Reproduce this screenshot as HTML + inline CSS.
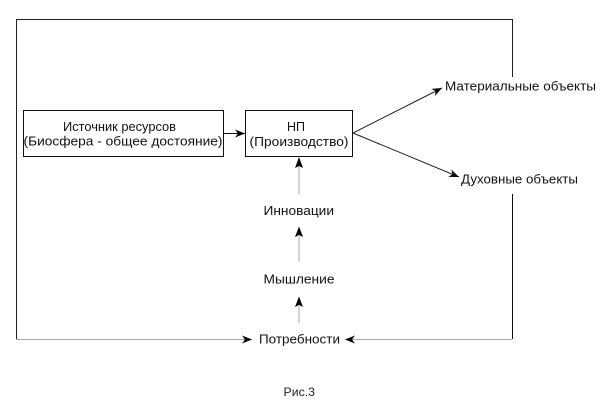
<!DOCTYPE html>
<html><head><meta charset="utf-8"><style>
html,body{margin:0;padding:0;background:#fff;}
svg{display:block;}
text{font-family:"Liberation Sans",Arial,sans-serif;fill:#111;}
</style></head><body>
<svg width="608" height="411" viewBox="0 0 608 411" xmlns="http://www.w3.org/2000/svg">
<defs>
<marker id="ah" viewBox="0 0 10 8" refX="10" refY="4" markerWidth="10" markerHeight="8" markerUnits="userSpaceOnUse" orient="auto">
<path d="M0,0 L10,4 L0,8 L3,4 Z" fill="#000"/>
</marker>
</defs>
<!-- outer frame -->
<path d="M16.5,339 L16.5,19.5 L512.5,19.5 L512.5,77" fill="none" stroke="#222" stroke-width="1"/>
<path d="M512.5,194 L512.5,339" fill="none" stroke="#111" stroke-width="1"/>
<!-- bottom line -->
<line x1="16" y1="339.5" x2="252" y2="339.5" stroke="#aaa" stroke-width="1" marker-end="url(#ah)"/>
<line x1="512" y1="339.5" x2="345" y2="339.5" stroke="#aaa" stroke-width="1" marker-end="url(#ah)"/>
<!-- boxes -->
<rect x="23.5" y="110.5" width="200" height="46" fill="none" stroke="#111" stroke-width="1"/>
<rect x="245.5" y="110.5" width="107" height="46" fill="none" stroke="#111" stroke-width="1"/>
<!-- box1 -> box2 -->
<line x1="224" y1="133.5" x2="245" y2="133.5" stroke="#111" stroke-width="1" marker-end="url(#ah)"/>
<!-- diagonals -->
<line x1="353" y1="133" x2="442" y2="88" stroke="#222" stroke-width="1" marker-end="url(#ah)"/>
<line x1="353" y1="133" x2="459" y2="177" stroke="#222" stroke-width="1" marker-end="url(#ah)"/>
<!-- vertical arrows -->
<line x1="299" y1="194" x2="299" y2="166" stroke="#d4d4d4" stroke-width="2"/>
<path d="M299,157 L303,168 L299,166 L295,168 Z" fill="#000"/>
<line x1="299" y1="262" x2="299" y2="236" stroke="#d4d4d4" stroke-width="2"/>
<path d="M299,226.5 L303,237 L299,235 L295,237 Z" fill="#000"/>
<line x1="299" y1="323" x2="299" y2="306" stroke="#d4d4d4" stroke-width="2"/>
<path d="M299,296.5 L303,307 L299,305 L295,307 Z" fill="#000"/>
<!-- texts -->
<text x="63" y="131" font-size="12.5" textLength="113" lengthAdjust="spacingAndGlyphs">Источник ресурсов</text>
<text x="23.5" y="145.5" font-size="12.5" textLength="199" lengthAdjust="spacingAndGlyphs">(Биосфера - общее достояние)</text>
<text x="287" y="131" font-size="12.5" textLength="18" lengthAdjust="spacingAndGlyphs">НП</text>
<text x="249.5" y="146" font-size="12.5" textLength="99" lengthAdjust="spacingAndGlyphs">(Производство)</text>
<text x="445" y="90.7" font-size="13" textLength="151" lengthAdjust="spacingAndGlyphs">Материальные объекты</text>
<text x="461" y="183.3" font-size="12.5" textLength="117" lengthAdjust="spacingAndGlyphs">Духовные объекты</text>
<text x="263.5" y="215" font-size="13" textLength="70.5" lengthAdjust="spacingAndGlyphs">Инновации</text>
<text x="263.5" y="283.3" font-size="13" textLength="71" lengthAdjust="spacingAndGlyphs">Мышление</text>
<text x="259" y="343.3" font-size="13" textLength="81" lengthAdjust="spacingAndGlyphs">Потребности</text>
<text x="283.5" y="396" font-size="11.5" textLength="31.5" lengthAdjust="spacingAndGlyphs" style="fill:#222">Рис.3</text>
</svg>
</body></html>
